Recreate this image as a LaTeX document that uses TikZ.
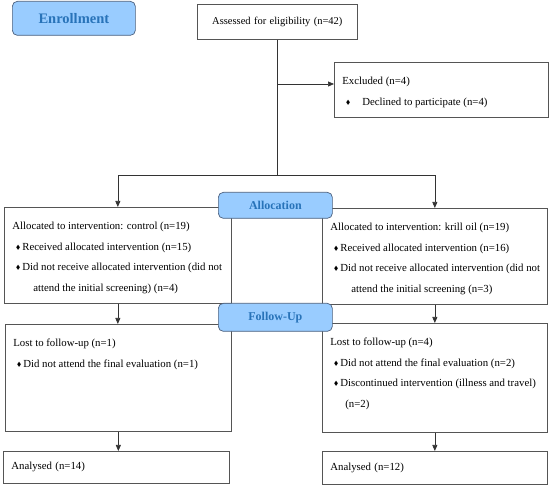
\documentclass[tikz,border=0pt]{standalone}
\usepackage{amssymb}
\usepackage{fontspec}
\setmainfont{Liberation Serif}
\usetikzlibrary{arrows.meta}

\definecolor{tagfill}{RGB}{153,204,255}
\definecolor{tagline}{RGB}{75,95,125}
\definecolor{tagtext}{RGB}{40,115,185}
\definecolor{boxline}{RGB}{85,85,85}

\newcommand{\bul}[1][10pt]{\makebox[#1][l]{\hspace{3.5pt}\raisebox{1pt}{\fontsize{6}{6}\selectfont$\blacklozenge$}}}
\newcommand{\boxtext}[3]{\parbox[c][#2][t]{#1}{\fontsize{10.8}{20.5}\selectfont\raggedright\leftskip=8pt\vspace*{15pt}#3}}

\begin{document}
\begin{tikzpicture}[x=1pt,y=-1pt,>={Triangle[length=6pt,width=5pt]},
    wbox/.style={draw=boxline,line width=0.7pt,anchor=north west,inner sep=0pt},
    tag/.style={draw=tagline,fill=tagfill,rounded corners=5pt,line width=0.7pt,anchor=north west,
        inner sep=0pt,text=tagtext,font=\bfseries\fontsize{12}{14}\selectfont},
    link/.style={draw=black!80,line width=0.7pt}]
        \useasboundingbox (0,0) rectangle (550,486);

        \node[wbox,minimum width=160pt,minimum height=35pt,text width=144pt,align=center] (assess) at (197,4)
            {\fontsize{10.5}{12}\selectfont Assessed for eligibility (n=42)};
        \node[wbox] (excl) at (334,62) {\boxtext{214pt}{55pt}{Excluded (n=4)\\ \bul[20pt]Declined to participate (n=4)}};

        \node[wbox] (allocL) at (4,207) {\boxtext{227pt}{96pt}{Allocated to intervention: control (n=19)\\
            \bul Received allocated intervention (n=15)\\
            \bul Did not receive allocated intervention (did not\\
            \hspace*{21pt}attend the initial screening) (n=4)}};
        \node[wbox] (allocR) at (322,208) {\boxtext{225pt}{96pt}{Allocated to intervention: krill oil (n=19)\\
            \bul Received allocated intervention (n=16)\\
            \bul Did not receive allocated intervention (did not\\
            \hspace*{21pt}attend the initial screening (n=3)}};

        \node[wbox] (fuL) at (5,324) {\boxtext{226pt}{107pt}{Lost to follow-up (n=1)\\
            \bul Did not attend the final evaluation (n=1)}};
        \node[wbox] (fuR) at (322,323) {\boxtext{225pt}{109pt}{Lost to follow-up (n=4)\\
            \bul Did not attend the final evaluation (n=2)\\
            \bul Discontinued intervention (illness and travel)\\
            \hspace*{15pt}(n=2)}};

        \node[wbox,minimum width=226pt,minimum height=32pt,text width=210pt,align=left] (anL) at (3,451)
            {\fontsize{10.8}{12}\selectfont Analysed (n=14)};
        \node[wbox,minimum width=225pt,minimum height=33pt,text width=209pt,align=left] (anR) at (322,451)
            {\fontsize{10.8}{12}\selectfont Analysed (n=12)};

        \node[tag,minimum width=123pt,minimum height=34pt,font=\bfseries\fontsize{14.5}{16}\selectfont] (enroll) at (12,1) {Enrollment};
        \node[tag,minimum width=114pt,minimum height=26pt] (allocTag) at (218,192) {Allocation};
        \node[tag,minimum width=114pt,minimum height=28pt] (fuTag) at (218,303) {Follow-Up};

        \coordinate (split) at (assess.south |- 0,175);
        \draw[link] (assess.south)--(split);
        \draw[link,->] (assess.south |- 0,84)--(excl.west |- 0,84);
        \draw[link,->] (split)-|(allocL.north);
        \draw[link,->] (split)-|(allocR.north);
        \draw[link,->] (allocL.south)--(allocL.south |- fuL.north);
        \draw[link,->] (allocR.south)--(allocR.south |- fuR.north);
        \draw[link,->] (fuL.south)--(fuL.south |- anL.north);
        \draw[link,->] (fuR.south)--(fuR.south |- anR.north);
\end{tikzpicture}
\end{document}
